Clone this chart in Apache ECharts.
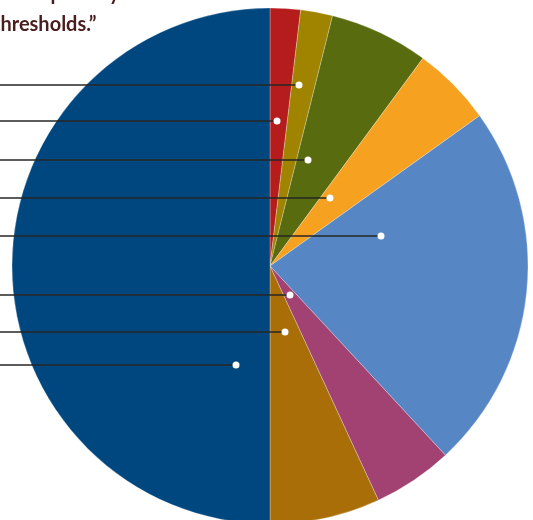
<!DOCTYPE html>
<html lang="en">
<head>
    <meta charset="UTF-8">
    <title>Pie</title>
    <script src="https://cdn.jsdelivr.net/npm/echarts@6.0.0/dist/echarts.min.js"></script>
    <style>
        html, body { margin: 0; padding: 0; background: #fff; }
        #main { width: 533px; height: 520px; }
    </style>
</head>
<body>
    <div id="main"></div>
    <script>
        // slices, clockwise from 12 o'clock (percent)
        let sliceNames = ['A', 'B', 'C', 'D', 'E', 'F', 'G', 'H'];
        let sliceValues = [1.9, 2.0, 6.2, 5.0, 23.0, 5.0, 6.9, 50.0];
        let sliceColors = ['#b51c1c', '#a08400', '#586b0f', '#f6a11f', '#5687c4', '#a14273', '#a96e07', '#00477f'];

        // leader lines: dot position in pixels of a hidden full-size grid
        let leaderX = [299, 277, 308, 330, 381, 290, 285, 236];
        let leaderY = [85, 121, 160, 198, 236, 295, 332, 365];

        let myChart = echarts.init(document.getElementById('main'));

        let lineSeries = leaderX.map((x, i) => ({
            type: 'line',
            data: [[0, leaderY[i]], [x, leaderY[i]]],
            symbol: 'none',
            silent: true,
            z: 5,
            lineStyle: { color: '#262626', width: 1.5 }
        }));

        option = {
            animation: false,
            title: {
                text: 'of the poverty\nthresholds.\u201d',
                left: -7,
                top: -22,
                padding: 0,
                textStyle: {
                    fontFamily: 'Lato',
                    fontWeight: 'bold',
                    fontSize: 20,
                    lineHeight: 31,
                    color: '#4a1e1e'
                }
            },
            grid: { left: 0, right: 0, top: 0, bottom: 0 },
            xAxis: { type: 'value', min: 0, max: 533, show: false },
            yAxis: { type: 'value', min: 0, max: 520, inverse: true, show: false },
            series: [
                {
                    type: 'pie',
                    center: [270, 266],
                    radius: 258,
                    startAngle: 90,
                    clockwise: true,
                    label: { show: false },
                    labelLine: { show: false },
                    silent: true,
                    z: 1,
                    itemStyle: { borderColor: 'rgba(255,255,255,0.45)', borderWidth: 0.6 },
                    data: sliceValues.map((v, i) => ({
                        name: sliceNames[i],
                        value: v,
                        itemStyle: { color: sliceColors[i] }
                    }))
                },
                ...lineSeries,
                {
                    type: 'scatter',
                    data: leaderX.map((x, i) => [x, leaderY[i]]),
                    symbolSize: 7,
                    itemStyle: { color: '#ffffff', opacity: 1 },
                    silent: true,
                    z: 6
                }
            ]
        };

        myChart.setOption(option);
    </script>
</body>
</html>
